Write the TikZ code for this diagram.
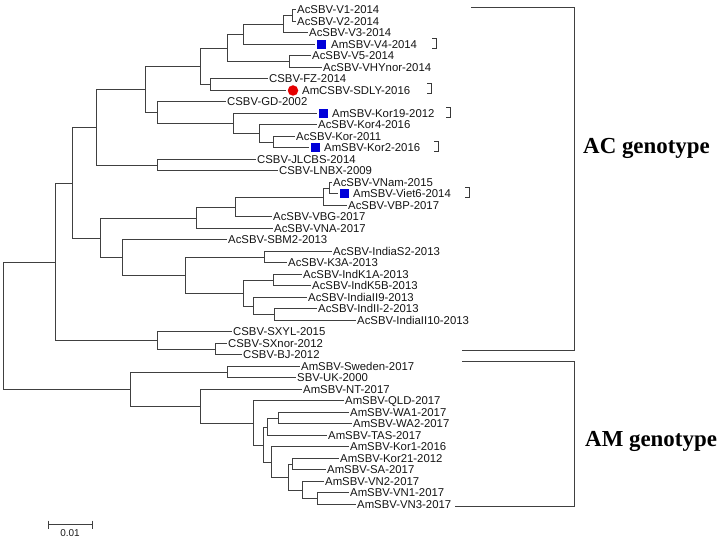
\documentclass[tikz,border=0pt]{standalone}
\usepackage{fontspec}
\setmainfont{Liberation Sans}
\newfontfamily\serifb{Liberation Serif}
\begin{document}
\begin{tikzpicture}[x=1bp,y=-1bp,
  br/.style={draw=black!75, line width=1.7bp},
  lf/.style={anchor=west, inner xsep=1.5bp, inner ysep=0pt, font=\fontsize{11.4}{12}\selectfont, text=black!92, text height=8.2pt, text depth=0pt},
  sq/.style={fill=blue!85!black, minimum size=9bp, inner sep=0pt, outer sep=2bp},
  rdot/.style={circle, fill=red!90!black, minimum size=10.5bp, inner sep=0pt, outer sep=2bp},
  gt/.style={font=\serifb\bfseries\fontsize{23}{26}\selectfont, anchor=base west, inner sep=0pt, text=black},
  brk/.style={draw=black!78, line width=1.2bp}]
\useasboundingbox (0,0) rectangle (720,540);
% ---------- leaves ----------
\node[lf] (V1) at (295.5,9.5) {AcSBV-V1-2014};
\node[lf] (V2) at (295.5,21.5) {AcSBV-V2-2014};
\node[lf] (V3) at (307.5,32.5) {AcSBV-V3-2014};
\node[sq] (mV4) at (321.5,44.5) {};
\node[lf] (V4) at (329.5,44.5) {AmSBV-V4-2014};
\node[lf] (V5) at (310.5,55.5) {AcSBV-V5-2014};
\node[lf] (VHY) at (321.5,67.5) {AcSBV-VHYnor-2014};
\node[lf] (FZ) at (267.5,78.5) {CSBV-FZ-2014};
\node[rdot] (mSD) at (293,90.5) {};
\node[lf] (SD) at (300.5,90.5) {AmCSBV-SDLY-2016};
\node[lf] (GD) at (225.5,101.5) {CSBV-GD-2002};
\node[sq] (mK19) at (323.5,113.5) {};
\node[lf] (K19) at (330.5,113.5) {AmSBV-Kor19-2012};
\node[lf] (K4) at (316.5,124.5) {AcSBV-Kor4-2016};
\node[lf] (K11) at (294.5,136.5) {AcSBV-Kor-2011};
\node[sq] (mK2) at (315.5,147.5) {};
\node[lf] (K2) at (322.5,147.5) {AmSBV-Kor2-2016};
\node[lf] (JL) at (255.5,159.5) {CSBV-JLCBS-2014};
\node[lf] (LN) at (277.5,170.5) {CSBV-LNBX-2009};
\node[lf] (VNam) at (331.5,182.5) {AcSBV-VNam-2015};
\node[sq] (mV6) at (344.5,193.5) {};
\node[lf] (V6) at (351.5,193.5) {AmSBV-Viet6-2014};
\node[lf] (VBP) at (346.5,205.5) {AcSBV-VBP-2017};
\node[lf] (VBG) at (271.5,216.5) {AcSBV-VBG-2017};
\node[lf] (VNA) at (272.5,228.5) {AcSBV-VNA-2017};
\node[lf] (SBM) at (226.5,239.5) {AcSBV-SBM2-2013};
\node[lf] (IS2) at (331.5,251.5) {AcSBV-IndiaS2-2013};
\node[lf] (K3A) at (286.5,262.5) {AcSBV-K3A-2013};
\node[lf] (K1A) at (301.5,274.5) {AcSBV-IndK1A-2013};
\node[lf] (K5B) at (310.5,285.5) {AcSBV-IndK5B-2013};
\node[lf] (I9) at (306.5,297.5) {AcSBV-IndiaII9-2013};
\node[lf] (I2) at (316.5,308.5) {AcSBV-IndII-2-2013};
\node[lf] (I10) at (355.5,320.5) {AcSBV-IndiaII10-2013};
\node[lf] (SXY) at (231.5,331.5) {CSBV-SXYL-2015};
\node[lf] (SXn) at (226.5,343.5) {CSBV-SXnor-2012};
\node[lf] (BJ) at (241.5,354.5) {CSBV-BJ-2012};
\node[lf] (SW) at (299.5,366.5) {AmSBV-Sweden-2017};
\node[lf] (UK) at (295.5,377.5) {SBV-UK-2000};
\node[lf] (NT) at (301.5,389.5) {AmSBV-NT-2017};
\node[lf] (QLD) at (343.5,400.5) {AmSBV-QLD-2017};
\node[lf] (WA1) at (348.5,412.5) {AmSBV-WA1-2017};
\node[lf] (WA2) at (351.5,423.5) {AmSBV-WA2-2017};
\node[lf] (TAS) at (326.5,435.5) {AmSBV-TAS-2017};
\node[lf] (Ko1) at (348.5,446.5) {AmSBV-Kor1-2016};
\node[lf] (K21) at (338.5,458.5) {AmSBV-Kor21-2012};
\node[lf] (SA) at (325.5,469.5) {AmSBV-SA-2017};
\node[lf] (VN2) at (323.5,481.5) {AmSBV-VN2-2017};
\node[lf] (VN1) at (348.5,492.5) {AmSBV-VN1-2017};
\node[lf] (VN3) at (355.5,504.5) {AmSBV-VN3-2017};
% ---------- internal nodes ----------
\coordinate (nV12) at (292.5,15.5);
\coordinate (nV123) at (283.5,24.5);
\coordinate (nV1234) at (243.5,34.5);
\coordinate (nV56) at (289.5,61.5);
\coordinate (nVtop) at (227.5,48.5);
\coordinate (nFZ) at (210.5,84.5);
\coordinate (n200) at (200.5,66.5);
\coordinate (nK273) at (273.5,142.5);
\coordinate (nK259) at (259.5,133.5);
\coordinate (nK233) at (233.5,123.5);
\coordinate (nGD) at (157.5,112.5);
\coordinate (n145) at (145.5,89.5);
\coordinate (nJL) at (157.5,165.5);
\coordinate (n96) at (96.5,127.5);
\coordinate (nVN329) at (329.5,188.5);
\coordinate (nVN323) at (323.5,197.5);
\coordinate (nVN235) at (235.5,207.5);
\coordinate (nVN196) at (196.5,218.5);
\coordinate (nI264) at (264.5,257.5);
\coordinate (nI273) at (273.5,280.5);
\coordinate (nI274) at (274.5,314.5);
\coordinate (nI253) at (253.5,306.5);
\coordinate (nI243) at (243.5,293.5);
\coordinate (nI185) at (185.5,275.5);
\coordinate (nI122) at (122.5,257.5);
\coordinate (nI100) at (100.5,238.5);
\coordinate (n72) at (72.5,183.5);
\coordinate (nSX215) at (215.5,349.5);
\coordinate (nSX157) at (157.5,340.5);
\coordinate (n55) at (55.5,262.5);
\coordinate (nSW) at (227.5,372.5);
\coordinate (nWA278) at (278.5,418.5);
\coordinate (nWA267) at (267.5,427.5);
\coordinate (nKS292) at (292.5,464.5);
\coordinate (nVN317) at (317.5,498.5);
\coordinate (nVN302) at (302.5,490.5);
\coordinate (nK288) at (288.5,477.5);
\coordinate (nK271) at (271.5,462.5);
\coordinate (nA263) at (263.5,445.5);
\coordinate (nA253) at (253.5,423.5);
\coordinate (nA200) at (200.5,406.5);
\coordinate (nA130) at (130.5,389.5);
\coordinate (root) at (3.5,326.5);
% ---------- branches ----------
\draw[br] (nV12) |- (V1.west);
\draw[br] (nV12) |- (V2.west);
\draw[br] (nV123) |- (nV12);
\draw[br] (nV123) |- (V3.west);
\draw[br] (nV1234) |- (nV123);
\draw[br] (nV1234) |- (mV4.west);
\draw[br] (nV56) |- (V5.west);
\draw[br] (nV56) |- (VHY.west);
\draw[br] (nVtop) |- (nV1234);
\draw[br] (nVtop) |- (nV56);
\draw[br] (nFZ) |- (FZ.west);
\draw[br] (nFZ) |- (mSD.west);
\draw[br] (n200) |- (nVtop);
\draw[br] (n200) |- (nFZ);
\draw[br] (nK273) |- (K11.west);
\draw[br] (nK273) |- (mK2.west);
\draw[br] (nK259) |- (K4.west);
\draw[br] (nK259) |- (nK273);
\draw[br] (nK233) |- (mK19.west);
\draw[br] (nK233) |- (nK259);
\draw[br] (nGD) |- (GD.west);
\draw[br] (nGD) |- (nK233);
\draw[br] (n145) |- (n200);
\draw[br] (n145) |- (nGD);
\draw[br] (nJL) |- (JL.west);
\draw[br] (nJL) |- (LN.west);
\draw[br] (n96) |- (n145);
\draw[br] (n96) |- (nJL);
\draw[br] (nVN329) |- (VNam.west);
\draw[br] (nVN329) |- (mV6.west);
\draw[br] (nVN323) |- (nVN329);
\draw[br] (nVN323) |- (VBP.west);
\draw[br] (nVN235) |- (nVN323);
\draw[br] (nVN235) |- (VBG.west);
\draw[br] (nVN196) |- (nVN235);
\draw[br] (nVN196) |- (VNA.west);
\draw[br] (nI264) |- (IS2.west);
\draw[br] (nI264) |- (K3A.west);
\draw[br] (nI273) |- (K1A.west);
\draw[br] (nI273) |- (K5B.west);
\draw[br] (nI274) |- (I2.west);
\draw[br] (nI274) |- (I10.west);
\draw[br] (nI253) |- (I9.west);
\draw[br] (nI253) |- (nI274);
\draw[br] (nI243) |- (nI273);
\draw[br] (nI243) |- (nI253);
\draw[br] (nI185) |- (nI264);
\draw[br] (nI185) |- (nI243);
\draw[br] (nI122) |- (SBM.west);
\draw[br] (nI122) |- (nI185);
\draw[br] (nI100) |- (nVN196);
\draw[br] (nI100) |- (nI122);
\draw[br] (n72) |- (n96);
\draw[br] (n72) |- (nI100);
\draw[br] (nSX215) |- (SXn.west);
\draw[br] (nSX215) |- (BJ.west);
\draw[br] (nSX157) |- (SXY.west);
\draw[br] (nSX157) |- (nSX215);
\draw[br] (n55) |- (n72);
\draw[br] (n55) |- (nSX157);
\draw[br] (nSW) |- (SW.west);
\draw[br] (nSW) |- (UK.west);
\draw[br] (nWA278) |- (WA1.west);
\draw[br] (nWA278) |- (WA2.west);
\draw[br] (nWA267) |- (nWA278);
\draw[br] (nWA267) |- (TAS.west);
\draw[br] (nKS292) |- (K21.west);
\draw[br] (nKS292) |- (SA.west);
\draw[br] (nVN317) |- (VN1.west);
\draw[br] (nVN317) |- (VN3.west);
\draw[br] (nVN302) |- (VN2.west);
\draw[br] (nVN302) |- (nVN317);
\draw[br] (nK288) |- (nKS292);
\draw[br] (nK288) |- (nVN302);
\draw[br] (nK271) |- (Ko1.west);
\draw[br] (nK271) |- (nK288);
\draw[br] (nA263) |- (nWA267);
\draw[br] (nA263) |- (nK271);
\draw[br] (nA253) |- (QLD.west);
\draw[br] (nA253) |- (nA263);
\draw[br] (nA200) |- (NT.west);
\draw[br] (nA200) |- (nA253);
\draw[br] (nA130) |- (nSW);
\draw[br] (nA130) |- (nA200);
\draw[br] (root) |- (n55);
\draw[br] (root) |- (nA130);
% ---------- small brackets ----------
\draw[brk] (432,38.5) -- (436.5,38.5) -- (436.5,48.5) -- (432,48.5);
\draw[brk] (427,83.5) -- (431.5,83.5) -- (431.5,93.5) -- (427,93.5);
\draw[brk] (446,107.5) -- (450.5,107.5) -- (450.5,117.5) -- (446,117.5);
\draw[brk] (434,141.5) -- (438.5,141.5) -- (438.5,151.5) -- (434,151.5);
\draw[brk] (465,187.5) -- (469.5,187.5) -- (469.5,197.5) -- (465,197.5);
% ---------- genotype brackets ----------
\coordinate (acT) at (471,7.5);
\coordinate (acB) at (462,350.5);
\coordinate (amT) at (462,361.5);
\coordinate (amB) at (455,506.5);
\draw[br] (acT) -- (574.5,7.5) -- (574.5,350.5) -- (acB);
\draw[br] (amT) -- (574.5,361.5) -- (574.5,506.5) -- (amB);
\node[gt] (ac) at (583,154) {AC genotype};
\node[gt] (am) at (585,446) {AM genotype};
% ---------- scale bar ----------
\coordinate (s1) at (48.5,524.5);
\coordinate (s2) at (92.5,524.5);
\draw[br, line width=1.4bp] (s1) -- (s2);
\draw[br, line width=1.4bp] (48.5,520.5) -- (48.5,528.5);
\draw[br, line width=1.4bp] (92.5,520.5) -- (92.5,528.5);
\node[font=\fontsize{10}{11}\selectfont, text=black!90, inner sep=0pt] (sl) at (70,533.5) {0.01};
\end{tikzpicture}
\end{document}
